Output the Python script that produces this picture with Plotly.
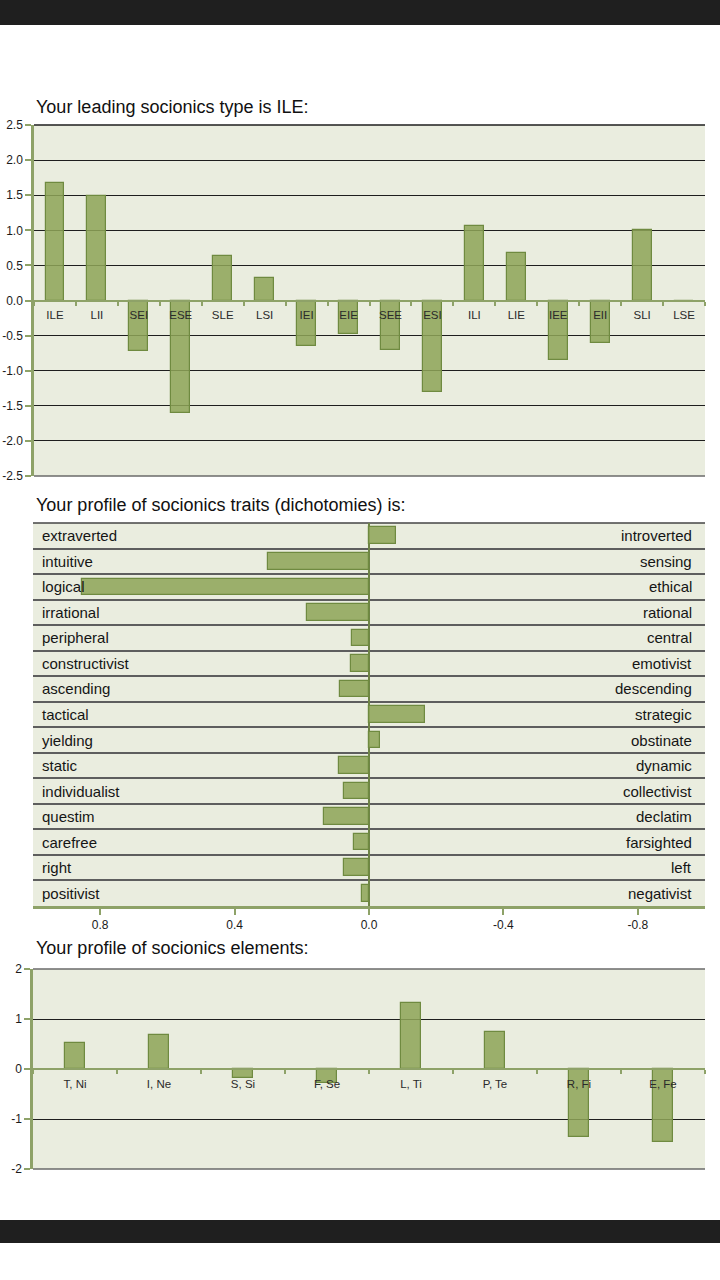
import plotly.graph_objects as go

# ---------------- data ----------------
types = ["ILE", "LII", "SEI", "ESE", "SLE", "LSI", "IEI", "EIE",
         "SEE", "ESI", "ILI", "LIE", "IEE", "EII", "SLI", "LSE"]
type_scores = [1.68, 1.49, -0.72, -1.60, 0.63, 0.32, -0.65, -0.48,
               -0.70, -1.30, 1.06, 0.67, -0.85, -0.60, 1.00, -0.02]
type_ticks = [2.5, 2.0, 1.5, 1.0, 0.5, 0.0, -0.5, -1.0, -1.5, -2.0, -2.5]
type_ticktext = ["2.5", "2.0", "1.5", "1.0", "0.5", "0.0", "-0.5", "-1.0", "-1.5", "-2.0", "-2.5"]

traits_left = ["extraverted", "intuitive", "logical", "irrational", "peripheral",
               "constructivist", "ascending", "tactical", "yielding", "static",
               "individualist", "questim", "carefree", "right", "positivist"]
traits_right = ["introverted", "sensing", "ethical", "rational", "central",
                "emotivist", "descending", "strategic", "obstinate", "dynamic",
                "collectivist", "declatim", "farsighted", "left", "negativist"]
trait_scores = [-0.08, 0.30, 0.855, 0.185, 0.051, 0.054, 0.087, -0.166,
                -0.034, 0.090, 0.075, 0.133, 0.046, 0.073, 0.021]
trait_ticks = [0.8, 0.4, 0.0, -0.4, -0.8]
trait_ticktext = ["0.8", "0.4", "0.0", "-0.4", "-0.8"]

elements = ["T, Ni", "I, Ne", "S, Si", "F, Se", "L, Ti", "P, Te", "R, Fi", "E, Fe"]
element_scores = [0.52, 0.69, -0.17, -0.28, 1.33, 0.74, -1.36, -1.45]
element_ticks = [2, 1, 0, -1, -2]
element_ticktext = ["2", "1", "0", "-1", "-2"]

titles = ["Your leading socionics type is ILE:",
          "Your profile of socionics traits (dichotomies) is:",
          "Your profile of socionics elements:"]

# ---------------- style ----------------
W, H = 720, 1280
FONT = "Liberation Sans, Arial, sans-serif"
BG = "#eaeddf"
BAR = "rgba(142,164,87,0.86)"
BAR_LINE = "#6f8a40"
AXIS = "#8ea268"
ZERO = "#6e8446"
GRID = "#1e1e1e"
EDGE = "#6a6a6a"


def py(px):
    return 1 - px / H


def pxx(px):
    return px / W


d1 = [py(476), py(125)]
d2 = [py(906), py(523)]
d3 = [py(1169), py(969)]
xdom = [pxx(34), pxx(705)]
xdom2 = [pxx(33), pxx(705)]

r1 = [-2.5, 2.5]
r3 = [-2.0, 2.0]


def zero_pos(dom, rng):
    return dom[0] + (0 - rng[0]) / (rng[1] - rng[0]) * (dom[1] - dom[0])


fig = go.Figure()

fig.add_trace(go.Bar(x=types, y=type_scores, xaxis="x", yaxis="y", width=0.45,
                     marker=dict(color=BAR, line=dict(color=BAR_LINE, width=1.2)),
                     showlegend=False, hoverinfo="skip"))
fig.add_trace(go.Bar(y=traits_left, x=trait_scores, orientation="h", xaxis="x2", yaxis="y2",
                     width=0.65,
                     marker=dict(color=BAR, line=dict(color=BAR_LINE, width=1.2)),
                     showlegend=False, hoverinfo="skip"))
fig.add_trace(go.Bar(x=elements, y=element_scores, xaxis="x3", yaxis="y3", width=0.24,
                     marker=dict(color=BAR, line=dict(color=BAR_LINE, width=1.2)),
                     showlegend=False, hoverinfo="skip"))

tickfont = dict(family=FONT, size=12, color="#1a1a1a")
catfont = dict(family=FONT, size=11.5, color="#2a2a2a")

layout = dict(
    width=W, height=H,
    margin=dict(l=0, r=0, t=0, b=0, pad=0, autoexpand=False),
    paper_bgcolor="white",
    plot_bgcolor=BG,
    bargap=0,
    # chart 1
    xaxis=dict(domain=xdom, anchor="free", position=zero_pos(d1, r1), type="category",
               showline=True, linecolor=AXIS, linewidth=2, tickson="boundaries",
               ticks="outside", ticklen=4, tickcolor=AXIS, tickwidth=1.5, automargin=False,
               showgrid=False, tickfont=catfont, ticklabelstandoff=4, fixedrange=True),
    yaxis=dict(domain=d1, anchor="x", range=r1, tickmode="array", tickvals=type_ticks,
               ticktext=type_ticktext, automargin=False,
               showline=True, linecolor=AXIS, linewidth=2.5, ticks="outside", ticklen=6,
               tickcolor=AXIS, tickwidth=1.5, showgrid=True, gridcolor=GRID, gridwidth=1,
               zeroline=False, tickfont=tickfont, ticklabelstandoff=0),
    # chart 2
    xaxis2=dict(domain=xdom2, anchor="y2", range=[1.0, -1.0], tickmode="array",
                tickvals=trait_ticks, ticktext=trait_ticktext, automargin=False,
                showline=True, linecolor=AXIS, linewidth=2.5,
                ticks="outside", ticklen=6, tickcolor=AXIS, tickwidth=1.5,
                showgrid=False, zeroline=True, zerolinecolor=ZERO, zerolinewidth=2,
                tickfont=tickfont),
    yaxis2=dict(domain=d2, anchor="x2", type="category", categoryarray=traits_left,
                categoryorder="array", autorange="reversed", tickson="boundaries",
                showticklabels=False, ticks="", showgrid=True, gridcolor="#5e5e5e",
                gridwidth=2, showline=False, automargin=False),
    # chart 3
    xaxis3=dict(domain=xdom2, anchor="free", position=zero_pos(d3, r3), type="category",
                showline=True, linecolor=AXIS, linewidth=2, tickson="boundaries",
                ticks="outside", ticklen=4, tickcolor=AXIS, tickwidth=1.5, automargin=False,
                showgrid=False, tickfont=catfont, ticklabelstandoff=4),
    yaxis3=dict(domain=d3, anchor="x3", range=r3, tickmode="array", tickvals=element_ticks,
                ticktext=element_ticktext, automargin=False,
                showline=True, linecolor=AXIS, linewidth=2.5, ticks="outside", ticklen=6,
                tickcolor=AXIS, tickwidth=1.5, showgrid=True, gridcolor=GRID, gridwidth=1,
                zeroline=False, tickfont=tickfont),
)
fig.update_layout(**layout)

# dark phone bars
fig.add_shape(type="rect", xref="paper", yref="paper", x0=0, x1=1, y0=py(25), y1=1,
              fillcolor="#1f1f1f", line=dict(width=0), layer="above")
fig.add_shape(type="rect", xref="paper", yref="paper", x0=0, x1=1, y0=py(1243), y1=py(1220),
              fillcolor="#1f1f1f", line=dict(width=0), layer="above")

# plot-area edge lines (top/bottom borders)
edges = [("x domain", "y domain", 1, GRID), ("x domain", "y domain", 0, EDGE),
         ("x2 domain", "y2 domain", 1, "#444444"),
         ("x3 domain", "y3 domain", 1, EDGE), ("x3 domain", "y3 domain", 0, EDGE)]
for xr, yr, yy, col in edges:
    fig.add_shape(type="line", xref=xr, yref=yr, x0=0, x1=1, y0=yy, y1=yy,
                  line=dict(color=col, width=1.5), layer="below")

# titles
for t, ypx in zip(titles, [107, 505, 948]):
    fig.add_annotation(text=t, xref="paper", yref="paper", x=pxx(34), y=py(ypx),
                       xanchor="left", yanchor="middle", showarrow=False,
                       font=dict(family=FONT, size=18, color="#111111"))

# trait labels
labfont = dict(family=FONT, size=15, color="#151515")
for lt, rt in zip(traits_left, traits_right):
    fig.add_annotation(text=lt, xref="x2 domain", yref="y2", x=0, y=lt, xshift=7,
                       xanchor="left", yanchor="middle", showarrow=False, font=labfont)
    fig.add_annotation(text=rt, xref="x2 domain", yref="y2", x=1, y=lt, xshift=-11,
                       xanchor="right", yanchor="middle", showarrow=False, font=labfont)

post = (
    "var s=document.documentElement.style;s.margin='0';s.padding='0';s.overflow='hidden';"
    "var b=document.body.style;b.margin='0';b.padding='0';b.overflow='hidden';b.height='1280px';"
    "var g=document.getElementById('{plot_id}').style;g.position='fixed';g.top='0';g.left='0';"
)
fig.write_html("out.html", post_script=post, config={"displayModeBar": False})
